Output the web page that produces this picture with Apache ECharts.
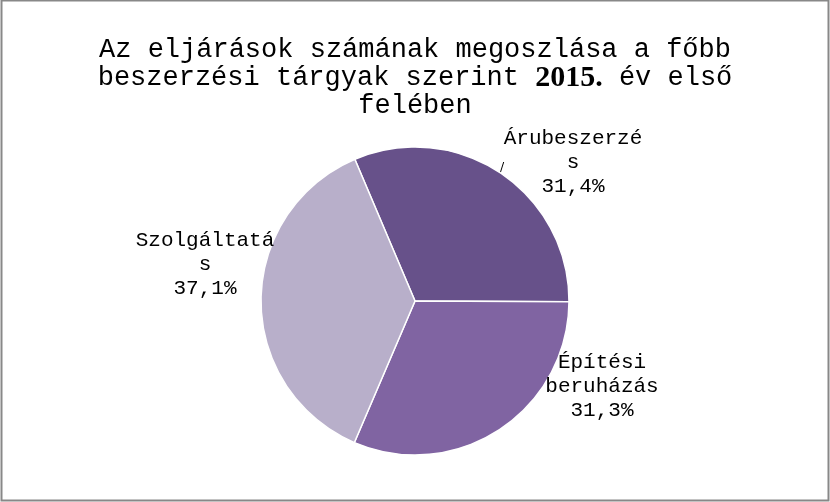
<!DOCTYPE html>
<html>
<head>
<meta charset="utf-8">
<script src="https://cdn.jsdelivr.net/npm/echarts@6/dist/echarts.min.js"></script>
<style>
  html, body { margin: 0; padding: 0; background: #fff; }
  #chart { width: 830px; height: 502px; }
</style>
</head>
<body>
<div id="chart"></div>
<script>
// beszerzési tárgyak és arányuk (%)
const categories = ["Árubeszerzés", "Építési beruházás", "Szolgáltatás"];
const shares = [31.4, 31.3, 37.1];
const colors = ["#67518a", "#8064a2", "#b8afca"];
// hol álljon a címke (a kép alapján)
const labelSpots = [[573, 162], [602, 386], [205, 264]];

const mono = "Liberation Mono";

// a címke sortörése úgy, ahogy az eredetin: 11 karakter fér el egy sorba
function wrapName(name) {
  if (name.includes(" ")) return name.replace(" ", "\n");
  if (name.length > 11) return name.slice(0, 11) + "\n" + name.slice(11);
  return name;
}

const chart = echarts.init(document.getElementById("chart"));

chart.setOption({
  animation: false,
  backgroundColor: "#fff",
  graphic: [
    {
      type: "rect",
      shape: { x: 1.5, y: 0.5, width: 827, height: 500 },
      style: { fill: "none", stroke: "#888", lineWidth: 2 },
    },
  ],
  title: {
    left: "center",
    top: 31,
    text:
      "{a|Az eljárások számának megoszlása a főbb}\n" +
      "{a|beszerzési tárgyak szerint }{b|2015.}{a| év első}\n" +
      "{a|felében}",
    textStyle: {
      fontWeight: "normal",
      rich: {
        a: {
          fontFamily: mono,
          fontSize: 27,
          fontWeight: "normal",
          color: "#000",
          lineHeight: 28,
        },
        b: {
          fontFamily: "Liberation Serif",
          fontSize: 30,
          fontWeight: "bold",
          color: "#000",
          lineHeight: 28,
        },
      },
    },
  },
  series: [
    {
      type: "pie",
      center: [415, 301],
      radius: 154,
      startAngle: 113,
      clockwise: true,
      data: categories.map((name, i) => ({
        name,
        value: shares[i],
        itemStyle: { color: colors[i] },
        labelLine: { show: i === 0 },
      })),
      itemStyle: { borderColor: "#fff", borderWidth: 1.5 },
      label: {
        position: "outside",
        fontFamily: mono,
        fontSize: 21,
        lineHeight: 24,
        color: "#000",
        align: "center",
        formatter: (p) =>
          wrapName(p.name) + "\n" + String(p.value).replace(".", ",") + "%",
      },
      labelLine: {
        length: 12,
        length2: 0,
        lineStyle: { color: "#000", width: 1 },
      },
      labelLayout: (params) => {
        const [x, y] = labelSpots[params.dataIndex];
        return { x, y, align: "center", verticalAlign: "middle" };
      },
    },
  ],
});
</script>
</body>
</html>
